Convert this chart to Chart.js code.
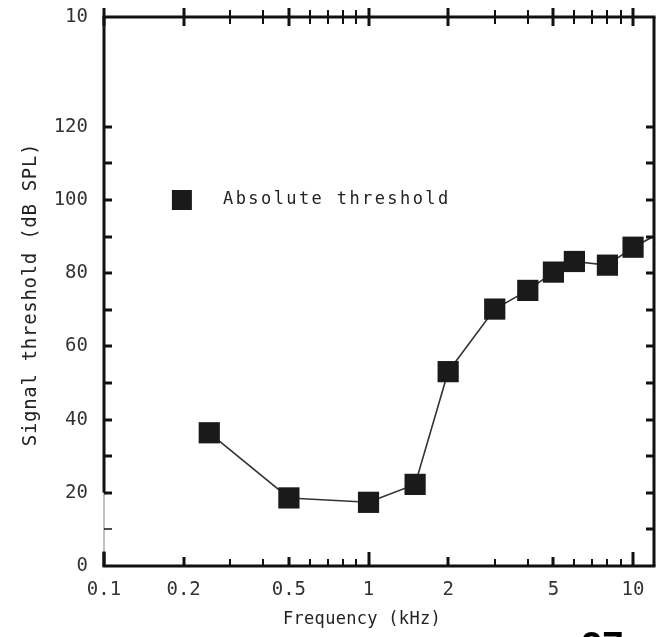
<!DOCTYPE html>
<html>
<head>
<meta charset="utf-8">
<title>Absolute threshold</title>
<script src="https://cdn.jsdelivr.net/npm/chart.js"></script>
<style>
  html, body { margin: 0; padding: 0; background: #fff; }
  #wrap { width: 657px; height: 637px; }
</style>
</head>
<body>
<div id="wrap"><canvas id="chart" width="657" height="637"></canvas></div>
<script>
// valores (kHz, dB SPL)
const freqs = [0.25, 0.5, 1, 1.5, 2, 3, 4, 5, 6, 8, 10, 12]
const thresholds = [36.4, 18.6, 17.4, 22.3, 53.1, 70.2, 75.3, 80.3, 83.2, 82.2, 87.1, 90.1]
const markerShown = [1, 1, 1, 1, 1, 1, 1, 1, 1, 1, 1, 0]

const xTickValues = [0.1, 0.2, 0.3, 0.4, 0.5, 0.6, 0.7, 0.8, 0.9, 1, 2, 3, 4, 5, 6, 7, 8, 9, 10]
const xTickLabels = ['0.1', '0.2', '', '', '0.5', '', '', '', '', '1', '2', '', '', '5', '', '', '', '', '10']
const yTickValues = [0, 10, 20, 30, 40, 50, 60, 70, 80, 90, 100, 110, 120, 150]
const yTickLabels = ['0', '', '20', '', '40', '', '60', '', '80', '', '100', '', '120', '10']

const seriesLabel = 'Absolute threshold'
const xTitle = 'Frequency (kHz)'
const yTitle = 'Signal threshold (dB SPL)'
const pageMark = '27'

const mono = "'DejaVu Sans Mono', 'Liberation Mono', monospace"
const ink = '#111'

function line (ctx, x1, y1, x2, y2) {
  ctx.beginPath()
  ctx.moveTo(x1, y1)
  ctx.lineTo(x2, y2)
  ctx.stroke()
}

// marco, marcas de ejes, leyenda y títulos
const framePlugin = {
  id: 'frame',
  afterDraw (chart) {
    const { ctx, chartArea: a, scales: { x, y } } = chart
    ctx.save()
    ctx.strokeStyle = ink
    ctx.lineCap = 'butt'

    // bordes
    ctx.lineWidth = 3
    line(ctx, a.left - 1.5, a.top, a.right + 1.5, a.top)
    line(ctx, a.right, a.top, a.right, a.bottom)
    line(ctx, a.left - 1.5, a.bottom, a.right + 1.5, a.bottom)
    line(ctx, a.left, a.top, a.left, y.getPixelForValue(20))
    line(ctx, a.left, y.getPixelForValue(4), a.left, a.bottom)
    ctx.save()
    ctx.lineWidth = 1.5
    ctx.strokeStyle = '#aaa'
    line(ctx, a.left, y.getPixelForValue(20), a.left, y.getPixelForValue(4))
    ctx.restore()

    // marcas del eje x (abajo hacia dentro, arriba cruzando)
    x.ticks.forEach((t, i) => {
      const px = Math.round(x.getPixelForValue(t.value))
      const decade = t.value === 0.1 || t.value === 1 || t.value === 10
      const labeled = xTickLabels[i] !== ''
      ctx.lineWidth = labeled ? 3 : 2
      const len = decade ? 14 : labeled ? 9 : 7
      line(ctx, px, a.bottom, px, a.bottom - len)
      line(ctx, px, a.top - (labeled ? 9 : 7), px, a.top + (labeled ? 9 : 7))
    })

    // marcas del eje y (izquierda y derecha hacia dentro)
    y.ticks.forEach(t => {
      if (t.value === 0 || t.value >= 150) return
      const py = Math.round(y.getPixelForValue(t.value))
      ctx.lineWidth = t.value === 10 ? 1.5 : 3
      line(ctx, a.left, py, a.left + 8, py)
      ctx.lineWidth = 3
      line(ctx, a.right, py, a.right - 8, py)
    })

    // leyenda
    const lx = x.getPixelForValue(0.197)
    const ly = y.getPixelForValue(100)
    ctx.fillStyle = '#1a1a1a'
    ctx.fillRect(lx - 10, ly - 10, 20, 20)
    ctx.fillStyle = '#222'
    ctx.font = '17px ' + mono
    ctx.letterSpacing = '2.4px'
    ctx.textAlign = 'left'
    ctx.textBaseline = 'middle'
    ctx.fillText(seriesLabel, x.getPixelForValue(0.282), ly)

    // título eje x
    ctx.letterSpacing = '0.3px'
    ctx.font = '17px ' + mono
    ctx.textAlign = 'center'
    ctx.fillText(xTitle, 362, 620)

    // título eje y
    ctx.save()
    ctx.translate(31, (a.top + a.bottom) / 2 + 3)
    ctx.rotate(-Math.PI / 2)
    ctx.font = '19px ' + mono
    ctx.letterSpacing = '0.7px'
    ctx.fillText(yTitle, 0, 0)
    ctx.restore()

    // número de página cortado abajo
    ctx.letterSpacing = '0px'
    ctx.fillStyle = '#000'
    ctx.font = 'bold 38px "Liberation Sans", Arial, sans-serif'
    ctx.textAlign = 'left'
    ctx.textBaseline = 'alphabetic'
    ctx.fillText(pageMark, 581, 659)
    ctx.restore()
  }
}

const ctx = document.getElementById('chart').getContext('2d')
const chart = new Chart(ctx, {
  type: 'line',
  data: {
    datasets: [{
      label: seriesLabel,
      data: freqs.map((f, i) => ({ x: f, y: thresholds[i] })),
      borderColor: '#333',
      borderWidth: 1.6,
      backgroundColor: '#1a1a1a',
      pointStyle: 'rect',
      pointRadius: markerShown.map(m => m ? 15 : 0),
      pointBorderWidth: 0,
      pointBackgroundColor: '#1a1a1a',
      tension: 0,
      fill: false
    }]
  },
  options: {
    responsive: false,
    animation: false,
    layout: { autoPadding: false, padding: { top: 17, right: 3, left: 0, bottom: 0 } },
    plugins: {
      legend: { display: false },
      tooltip: { enabled: false }
    },
    scales: {
      x: {
        type: 'logarithmic',
        min: 0.1,
        max: 12,
        afterBuildTicks: s => { s.ticks = xTickValues.map(v => ({ value: v })) },
        afterFit: s => {
          s.height = 71
          s.paddingLeft = 0
          s.paddingRight = 0
        },
        grid: { display: false, drawTicks: false },
        border: { display: false },
        ticks: {
          autoSkip: false,
          maxRotation: 0,
          padding: 13,
          color: '#333',
          font: { family: mono, size: 19 },
          callback: (v, i) => xTickLabels[i]
        }
      },
      y: {
        min: 0,
        max: 150,
        afterBuildTicks: s => { s.ticks = yTickValues.map(v => ({ value: v })) },
        afterFit: s => {
          s.width = 104
          s.paddingTop = 0
          s.paddingBottom = 0
        },
        grid: { display: false, drawTicks: false },
        border: { display: false },
        ticks: {
          autoSkip: false,
          padding: 16,
          color: '#333',
          font: { family: mono, size: 19 },
          callback: (v, i) => yTickLabels[i]
        }
      }
    }
  },
  plugins: [framePlugin]
})
</script>
</body>
</html>
